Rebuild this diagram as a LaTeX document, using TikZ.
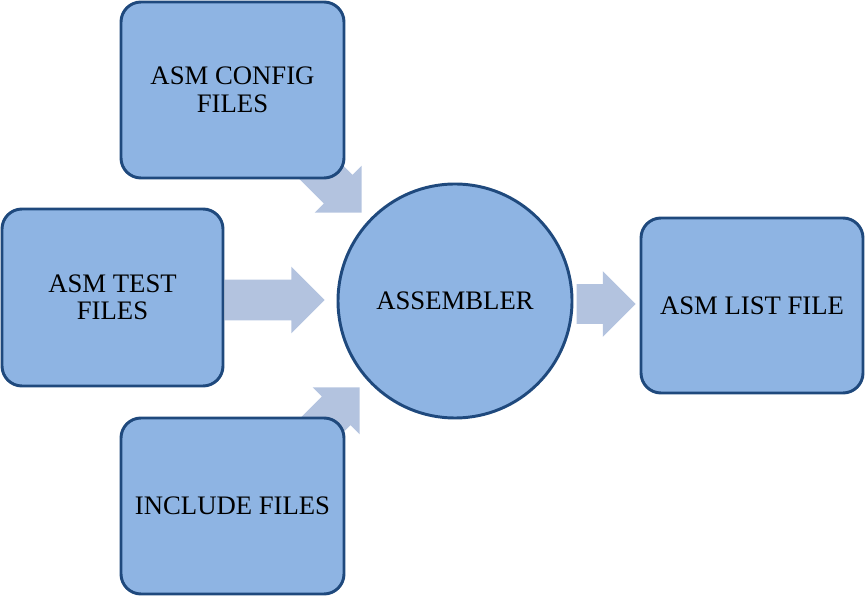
\documentclass[tikz,border=0pt]{standalone}
\usepackage{fontspec}
\setmainfont{Liberation Serif}
\usetikzlibrary{shapes.arrows}
\definecolor{boxfill}{HTML}{8EB4E3}
\definecolor{boxline}{HTML}{1F497D}
\definecolor{arrowfill}{HTML}{B3C3DF}
\begin{document}
\begin{tikzpicture}[
  font=\fontsize{19}{19.5}\selectfont,
  filebox/.style={draw=boxline, line width=2.1pt, fill=boxfill, rounded corners=0.5cm, align=center, inner sep=0pt},
  procnode/.style={draw=boxline, line width=2.1pt, fill=boxfill, circle, minimum size=5.85cm, inner sep=0pt},
  fatarrow/.style={single arrow, fill=arrowfill, draw=none, single arrow tip angle=90, inner xsep=0pt, inner ysep=0.5cm, single arrow head extend=0.325cm, minimum height=2.5cm, anchor=tip}
]
\useasboundingbox (0,0) rectangle (21.625,15.3);

% block arrows first, boxes go on top
\node[fatarrow, rotate=-45] (acfg) at (9.05,9.975) {};
\node[fatarrow] (atest) at (8.125,7.8) {};
\node[fatarrow, rotate=45] (aincl) at (9.0,5.625) {};
\node[fatarrow, minimum height=1.475cm, inner ysep=0.4875cm] (aout) at (15.9,7.7) {};

\node[filebox, minimum width=5.575cm, minimum height=4.4cm] (cfg) at (5.8125,13.05) {ASM CONFIG\\FILES};
\node[filebox, minimum width=5.525cm, minimum height=4.425cm] (test) at (2.8125,7.8625) {ASM TEST\\FILES};
\node[filebox, minimum width=5.575cm, minimum height=4.4cm] (incl) at (5.8125,2.65) {INCLUDE FILES};
\node[procnode] (asm) at (11.375,7.775) {ASSEMBLER};
\node[filebox, minimum width=5.55cm, minimum height=4.375cm] (lst) at (18.8,7.6625) {ASM LIST FILE};
\end{tikzpicture}
\end{document}
